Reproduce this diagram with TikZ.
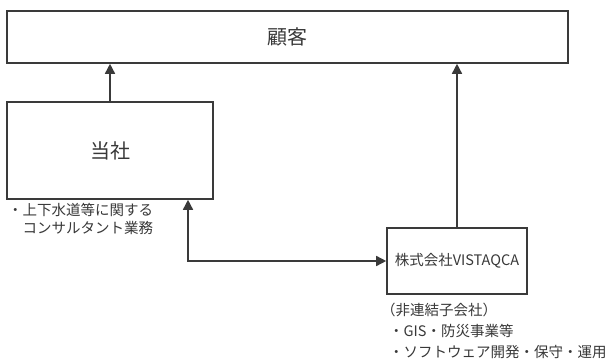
\documentclass[tikz,border=0pt]{standalone}
\usepackage{fontspec}
\setmainfont{Noto Sans CJK JP}
\usetikzlibrary{arrows.meta}
\definecolor{ink}{HTML}{3A3A3A}
\definecolor{txt}{HTML}{383838}
\tikzset{
  box/.style={draw=ink, line width=1.6pt, rectangle, inner sep=0pt, text=txt},
  conn/.style={draw=ink, line width=1.5pt, -{Triangle[length=10pt,width=10pt]}},
  conn2/.style={draw=ink, line width=1.5pt, {Triangle[length=10pt,width=10pt]}-{Triangle[length=10pt,width=10pt]}},
  note/.style={anchor=west, inner sep=0pt, text=txt, font=\fontsize{14.5}{18}\selectfont, align=left}
}
\begin{document}
\begin{tikzpicture}[x=1pt,y=-1pt]
\useasboundingbox (0,0) rectangle (606,363);
\node[box, minimum width=561pt, minimum height=52pt, font=\fontsize{20}{24}\selectfont] (cust) at (287.5,37) {顧客};
\node[box, minimum width=206pt, minimum height=97pt, font=\fontsize{20}{24}\selectfont] (tosha) at (110,150.5) {当社};
\node[box, minimum width=140pt, minimum height=66pt, font=\fontsize{14.5}{17}\selectfont] (vista) at (457,261) {株式会社VISTAQCA};
\coordinate (bend) at (188,261);
\draw[conn] (tosha.north) -- (cust.south -| tosha.north);
\draw[conn] (vista.north) -- (cust.south -| vista.north);
\draw[conn2] (tosha.south -| bend) -- (bend) -- (vista.west);
\node[note] (n1) at (8,210) {・上下水道等に関する};
\node[note] (n2) at (8,228) {　コンサルタント業務};
\node[note] (v1) at (381,310) {（非連結子会社）};
\node[note] (v2) at (389,331) {・GIS・防災事業等};
\node[note] (v3) at (389,352) {・ソフトウェア開発・保守・運用};
\end{tikzpicture}
\end{document}
